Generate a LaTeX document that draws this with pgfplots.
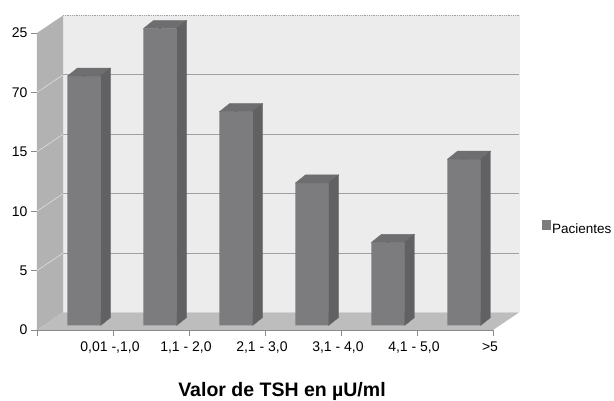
\documentclass[border=0pt]{standalone}
\usepackage{fontspec}
\setmainfont{Liberation Sans}
\usepackage{pgfplots}
\usepackage{pgfplotstable}
\pgfplotsset{compat=1.18}
\usetikzlibrary{calc}
\definecolor{barfront}{HTML}{7C7C7E}
\definecolor{barside}{HTML}{616163}
\definecolor{bartop}{HTML}{6E6E70}
\definecolor{backwall}{HTML}{ECECEC}
\definecolor{sidewall}{HTML}{B2B2B2}
\definecolor{floorc}{HTML}{BDBDBD}
\definecolor{gridc}{HTML}{A0A0A0}
\definecolor{axisc}{HTML}{8A8A8A}
\pgfplotstableread{
x v
0 21
1 25
2 18
3 12
4 7
5 14
}\datatable
\begin{document}
\begin{tikzpicture}[font=\fontsize{14}{16}\selectfont]
\begin{axis}[
  x=76pt, y=11.88pt,
  xmin=-0.5, xmax=5.5, ymin=0, ymax=25,
  clip=false,
  axis x line*=bottom, axis y line*=left,
  axis line style={draw=axisc, line width=0.6pt, -},
  tick style={draw=axisc, line width=0.6pt},
  tick align=outside, major tick length=6pt,
  xtick={-0.5,0.5,1.5,2.5,3.5,4.5,5.5},
  xticklabels={{0,01 -,1,0},{1,1 - 2,0},{2,1 - 3,0},{3,1 - 4,0},{4,1 - 5,0},{>5},{}},
  xticklabel style={xshift=73pt, anchor=north, yshift=-2pt},
  ytick={0,5,10,15,20,25},
  yticklabels={0,5,10,15,70,25},
  yticklabel style={anchor=east},
  xlabel={Valor de TSH en µU/ml},
  xlabel style={font=\fontsize{19.5}{22}\selectfont\bfseries, at={(axis description cs:0.5,0)}, anchor=north, xshift=17pt, yshift=-52pt, inner sep=0pt},
  legend style={at={(axis description cs:1.106,0.343)}, anchor=west, draw=none, fill=none, inner sep=0pt, font=\fontsize{13.5}{15}\selectfont, nodes={inner xsep=1.5pt}},
  legend image code/.code={\fill[barfront] (0pt,-5pt) rectangle (9pt,5pt);},
]
\coordinate (O) at (axis cs:-0.5,0);
% back wall
\fill[backwall] ($(axis cs:-0.5,0)+(26pt,17.5pt)$) rectangle ($(axis cs:5.5,25)+(26pt,17.5pt)$);
\draw[gridc, densely dotted, line width=0.8pt] ($(axis cs:-0.5,25)+(26pt,17.5pt)$) -- ($(axis cs:5.5,25)+(26pt,17.5pt)$);
\draw[white!85!gray, line width=0.6pt] ($(axis cs:5.5,0)+(26pt,17.5pt)$) -- ($(axis cs:5.5,25)+(26pt,17.5pt)$);
\pgfplotsinvokeforeach{5,10,15,20}{
  \draw[gridc, line width=0.8pt] ($(axis cs:-0.5,#1)+(26pt,17.5pt)$) -- ($(axis cs:5.5,#1)+(26pt,17.5pt)$);
}
% left wall
\fill[sidewall] (axis cs:-0.5,0) -- (axis cs:-0.5,25) -- ($(axis cs:-0.5,25)+(26pt,17.5pt)$) -- ($(axis cs:-0.5,0)+(26pt,17.5pt)$) -- cycle;
\pgfplotsinvokeforeach{5,10,15,20}{
  \draw[white!75!gray, line width=0.6pt] (axis cs:-0.5,#1) -- ($(axis cs:-0.5,#1)+(26pt,17.5pt)$);
}
% floor
\fill[floorc] (axis cs:-0.5,0) -- (axis cs:5.5,0) -- ($(axis cs:5.5,0)+(26pt,17.5pt)$) -- ($(axis cs:-0.5,0)+(26pt,17.5pt)$) -- cycle;
% bars: front faces
\addplot[ybar, bar width=33pt, fill=barfront, draw=none, xshift=9pt, yshift=4.5pt] table[x=x, y=v] {\datatable};
\addlegendentry{Pacientes}
% bars: top and side faces
\addplot[forget plot, only marks, scatter, mark=*, mark size=0.01pt, mark options={draw=none, fill=none},
  xshift=9pt, yshift=4.5pt,
  visualization depends on={rawy \as \rawy},
  scatter/@pre marker code/.code={
    \pgfmathsetmacro\H{\rawy*11.88}
    \fill[bartop] (-16.5pt,0pt) -- (16.5pt,0pt) -- (26.5pt,8pt) -- (-6.5pt,8pt) -- cycle;
    \fill[barside] (16.5pt,0pt) -- (26.5pt,8pt) -- (26.5pt,8pt-\H pt) -- (16.5pt,-\H pt) -- cycle;
  },
  scatter/@post marker code/.code={}
] table[x=x, y=v] {\datatable};
\end{axis}
\pgfresetboundingbox
\path[use as bounding box] ($(O)+(-37pt,-71pt)$) rectangle ($(O)+(577pt,330pt)$);
\end{tikzpicture}
\end{document}
